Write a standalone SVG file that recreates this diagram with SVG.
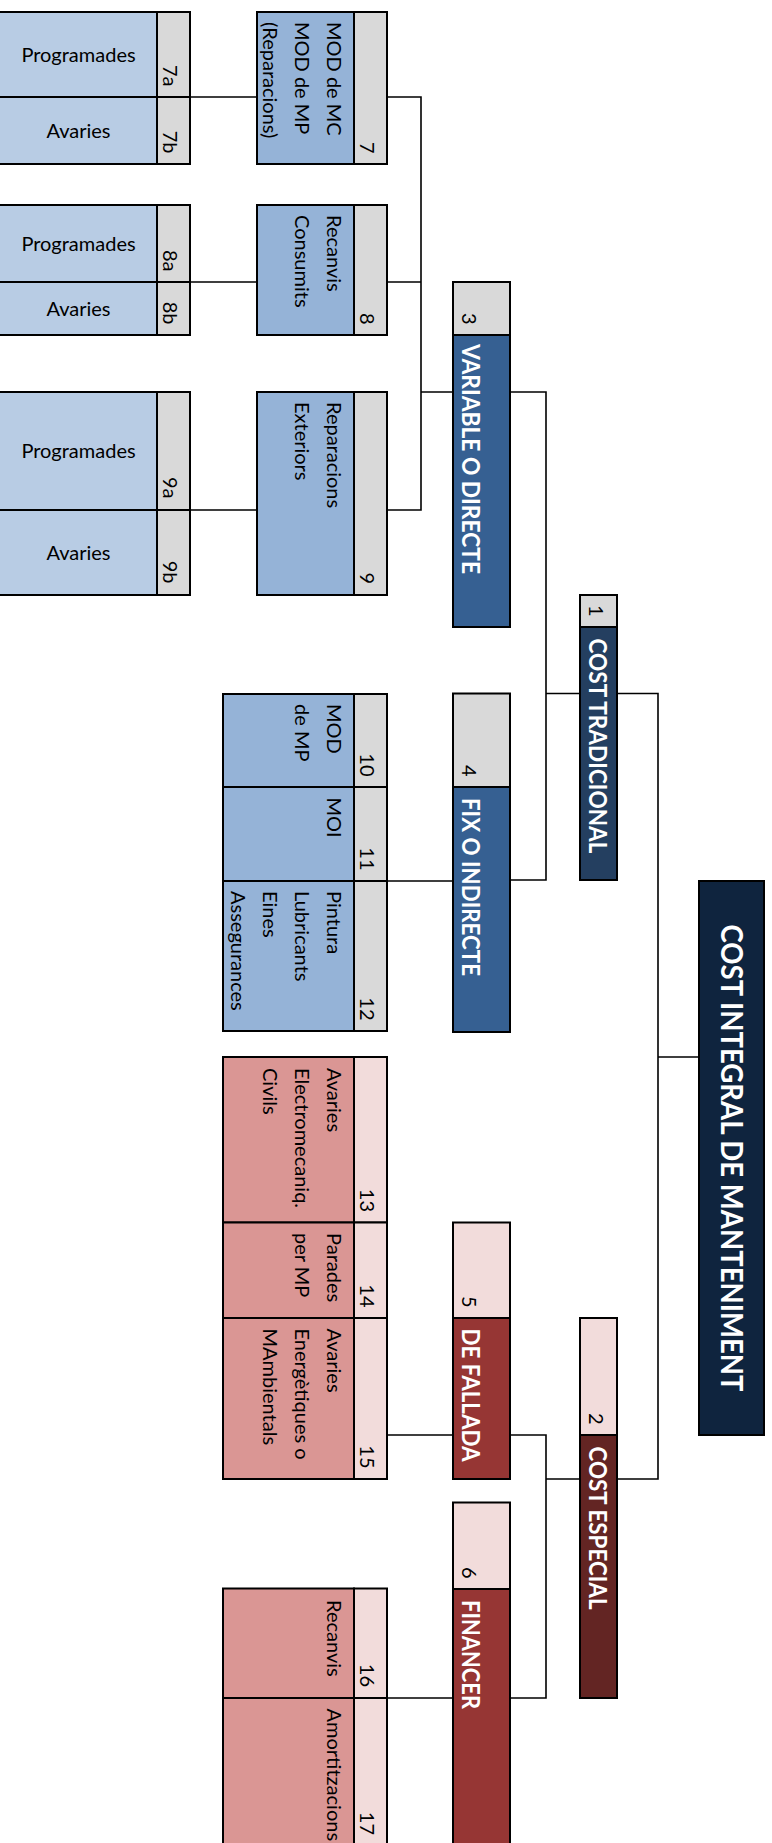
<svg xmlns="http://www.w3.org/2000/svg" width="772" height="1843" viewBox="0 0 772 1843">
  <style>
    .b { stroke: #000; stroke-width: 2; }
    .leaf { fill: #B8CCE4; }
    .mid { fill: #95B3D7; }
    .grey { fill: #D9D9D9; }
    .rose { fill: #DA9694; }
    .pink { fill: #F2DCDB; }
    .blue { fill: #366092; }
    .navy { fill: #243F60; }
    .ink { fill: #0F243E; }
    .red { fill: #963634; }
    .wine { fill: #632523; }
    .conn { stroke: #000; stroke-width: 1.6; fill: none; }
    text { font-family: Lato, "Liberation Sans", sans-serif; font-size: 20px; fill: #000; }
    .c { text-anchor: middle; }
    .e { text-anchor: end; }
    .w { font-weight: bold; font-size: 24px; fill: #fff; }
    .title { font-weight: bold; font-size: 30px; fill: #fff; text-anchor: middle; }
  </style>

  <!-- connectors (drawn first so box borders sit on top) -->
  <g id="connectors" class="conn">
    <path d="M190 97 H257 M190 282 H257 M190 510 H257"/>
    <path d="M387 97 H421 V510 H387 M387 282 H421 M421 392 H453"/>
    <path d="M510 392 H546 V880 H510 M546 693.5 H580 M387 881 H453"/>
    <path d="M617 693.5 H658 V1479 H617 M658 1057 H699"/>
    <path d="M387 1435 H453 M510 1435 H546 V1698 H510 M546 1479 H580 M387 1698 H453"/>
  </g>

  <!-- leaf rows: 7a .. 9b -->
  <g id="n7a">
    <rect class="b leaf" x="-4" y="12" width="161" height="85"/>
    <rect class="b grey" x="157" y="12" width="33" height="85"/>
    <text class="c" x="78.5" y="61.5">Programades</text>
    <text class="e" transform="translate(163,86.5) rotate(90)">7a</text>
  </g>
  <g id="n7b">
    <rect class="b leaf" x="-4" y="97" width="161" height="67"/>
    <rect class="b grey" x="157" y="97" width="33" height="67"/>
    <text class="c" x="78.5" y="137.5">Avaries</text>
    <text class="e" transform="translate(163,153.5) rotate(90)">7b</text>
  </g>
  <g id="n8a">
    <rect class="b leaf" x="-4" y="205" width="161" height="77"/>
    <rect class="b grey" x="157" y="205" width="33" height="77"/>
    <text class="c" x="78.5" y="250.5">Programades</text>
    <text class="e" transform="translate(163,271.5) rotate(90)">8a</text>
  </g>
  <g id="n8b">
    <rect class="b leaf" x="-4" y="282" width="161" height="53"/>
    <rect class="b grey" x="157" y="282" width="33" height="53"/>
    <text class="c" x="78.5" y="315.5">Avaries</text>
    <text class="e" transform="translate(163,324.5) rotate(90)">8b</text>
  </g>
  <g id="n9a">
    <rect class="b leaf" x="-4" y="392" width="161" height="118"/>
    <rect class="b grey" x="157" y="392" width="33" height="118"/>
    <text class="c" x="78.5" y="458">Programades</text>
    <text class="e" transform="translate(163,498.5) rotate(90)">9a</text>
  </g>
  <g id="n9b">
    <rect class="b leaf" x="-4" y="510" width="161" height="85"/>
    <rect class="b grey" x="157" y="510" width="33" height="85"/>
    <text class="c" x="78.5" y="559.5">Avaries</text>
    <text class="e" transform="translate(163,583.5) rotate(90)">9b</text>
  </g>

  <!-- second column: 7, 8, 9 -->
  <g id="n7">
    <rect class="b mid" x="257" y="12" width="97" height="152"/>
    <rect class="b grey" x="354" y="12" width="33" height="152"/>
    <text transform="translate(327,22) rotate(90)"><tspan x="0" y="0">MOD de MC</tspan><tspan x="0" dy="32">MOD de MP</tspan><tspan x="0" dy="32">(Reparacions)</tspan></text>
    <text class="e" transform="translate(360,153.5) rotate(90)">7</text>
  </g>
  <g id="n8">
    <rect class="b mid" x="257" y="205" width="97" height="130"/>
    <rect class="b grey" x="354" y="205" width="33" height="130"/>
    <text transform="translate(327,215) rotate(90)"><tspan x="0" y="0">Recanvis</tspan><tspan x="0" dy="32">Consumits</tspan></text>
    <text class="e" transform="translate(360,324.5) rotate(90)">8</text>
  </g>
  <g id="n9">
    <rect class="b mid" x="257" y="392" width="97" height="203"/>
    <rect class="b grey" x="354" y="392" width="33" height="203"/>
    <text transform="translate(327,402) rotate(90)"><tspan x="0" y="0">Reparacions</tspan><tspan x="0" dy="32">Exteriors</tspan></text>
    <text class="e" transform="translate(360,584) rotate(90)">9</text>
  </g>

  <!-- fixed cost items: 10, 11, 12 -->
  <g id="n10">
    <rect class="b mid" x="223" y="694" width="131" height="93"/>
    <rect class="b grey" x="354" y="694" width="33" height="93"/>
    <text transform="translate(327,704) rotate(90)"><tspan x="0" y="0">MOD</tspan><tspan x="0" dy="32">de MP</tspan></text>
    <text class="e" transform="translate(360,776.5) rotate(90)">10</text>
  </g>
  <g id="n11">
    <rect class="b mid" x="223" y="787" width="131" height="94"/>
    <rect class="b grey" x="354" y="787" width="33" height="94"/>
    <text transform="translate(327,797.5) rotate(90)">MOI</text>
    <text class="e" transform="translate(360,870.5) rotate(90)">11</text>
  </g>
  <g id="n12">
    <rect class="b mid" x="223" y="881" width="131" height="150"/>
    <rect class="b grey" x="354" y="881" width="33" height="150"/>
    <text transform="translate(327,891) rotate(90)"><tspan x="0" y="0">Pintura</tspan><tspan x="0" dy="32">Lubricants</tspan><tspan x="0" dy="32">Eines</tspan><tspan x="0" dy="32">Assegurances</tspan></text>
    <text class="e" transform="translate(360,1020.5) rotate(90)">12</text>
  </g>

  <!-- failure cost items: 13, 14, 15 -->
  <g id="n13">
    <rect class="b rose" x="223" y="1057" width="131" height="165.5"/>
    <rect class="b pink" x="354" y="1057" width="33" height="165.5"/>
    <text transform="translate(327,1068) rotate(90)"><tspan x="0" y="0">Avaries</tspan><tspan x="0" dy="32">Electromecaniq.</tspan><tspan x="0" dy="32">Civils</tspan></text>
    <text class="e" transform="translate(360,1212) rotate(90)">13</text>
  </g>
  <g id="n14">
    <rect class="b rose" x="223" y="1222.5" width="131" height="95.5"/>
    <rect class="b pink" x="354" y="1222.5" width="33" height="95.5"/>
    <text transform="translate(327,1233) rotate(90)"><tspan x="0" y="0">Parades</tspan><tspan x="0" dy="32">per MP</tspan></text>
    <text class="e" transform="translate(360,1307.5) rotate(90)">14</text>
  </g>
  <g id="n15">
    <rect class="b rose" x="223" y="1318" width="131" height="161"/>
    <rect class="b pink" x="354" y="1318" width="33" height="161"/>
    <text transform="translate(327,1328.5) rotate(90)"><tspan x="0" y="0">Avaries</tspan><tspan x="0" dy="32">Energètiques o</tspan><tspan x="0" dy="32">MAmbientals</tspan></text>
    <text class="e" transform="translate(360,1468.5) rotate(90)">15</text>
  </g>

  <!-- financial cost items: 16, 17 -->
  <g id="n16">
    <rect class="b rose" x="223" y="1588.5" width="131" height="109.5"/>
    <rect class="b pink" x="354" y="1588.5" width="33" height="109.5"/>
    <text transform="translate(327,1600) rotate(90)">Recanvis</text>
    <text class="e" transform="translate(360,1687) rotate(90)">16</text>
  </g>
  <g id="n17">
    <rect class="b rose" x="223" y="1698" width="131" height="150"/>
    <rect class="b pink" x="354" y="1698" width="33" height="150"/>
    <text transform="translate(327,1708.5) rotate(90)">Amortitzacions</text>
    <text class="e" transform="translate(360,1835) rotate(90)">17</text>
  </g>

  <!-- cost categories: 3, 4, 5, 6 -->
  <g id="n3">
    <rect class="b grey" x="453" y="282" width="57" height="53"/>
    <rect class="b blue" x="453" y="335" width="57" height="292"/>
    <text class="e" transform="translate(461.5,324.5) rotate(90)">3</text>
    <text class="w" transform="translate(461.5,344) rotate(90)" textLength="230" lengthAdjust="spacingAndGlyphs">VARIABLE O DIRECTE</text>
  </g>
  <g id="n4">
    <rect class="b grey" x="453" y="693.5" width="57" height="93.5"/>
    <rect class="b blue" x="453" y="787" width="57" height="245"/>
    <text class="e" transform="translate(461.5,776.5) rotate(90)">4</text>
    <text class="w" transform="translate(461.5,798) rotate(90)" textLength="178" lengthAdjust="spacingAndGlyphs">FIX O INDIRECTE</text>
  </g>
  <g id="n5">
    <rect class="b pink" x="453" y="1222.5" width="57" height="95.5"/>
    <rect class="b red" x="453" y="1318" width="57" height="161"/>
    <text class="e" transform="translate(461.5,1307.5) rotate(90)">5</text>
    <text class="w" transform="translate(461.5,1328.5) rotate(90)" textLength="133" lengthAdjust="spacingAndGlyphs">DE FALLADA</text>
  </g>
  <g id="n6">
    <rect class="b pink" x="453" y="1502.5" width="57" height="86.5"/>
    <rect class="b red" x="453" y="1589" width="57" height="260"/>
    <text class="e" transform="translate(461.5,1578.5) rotate(90)">6</text>
    <text class="w" transform="translate(461.5,1600) rotate(90)" textLength="109" lengthAdjust="spacingAndGlyphs">FINANCER</text>
  </g>

  <!-- cost groups: 1, 2 -->
  <g id="n1">
    <rect class="b grey" x="580" y="595" width="37" height="32"/>
    <rect class="b navy" x="580" y="627" width="37" height="253"/>
    <text class="e" transform="translate(588.5,616.5) rotate(90)">1</text>
    <text class="w" transform="translate(588.5,638.5) rotate(90)" textLength="215" lengthAdjust="spacingAndGlyphs">COST TRADICIONAL</text>
  </g>
  <g id="n2">
    <rect class="b pink" x="580" y="1318" width="37" height="117"/>
    <rect class="b wine" x="580" y="1435" width="37" height="263"/>
    <text class="e" transform="translate(588.5,1424.5) rotate(90)">2</text>
    <text class="w" transform="translate(588.5,1446.5) rotate(90)" textLength="163" lengthAdjust="spacingAndGlyphs">COST ESPECIAL</text>
  </g>

  <!-- root -->
  <g id="root">
    <rect class="b ink" x="699" y="881" width="65" height="554"/>
    <text class="title" transform="translate(720.5,1158) rotate(90)" textLength="467" lengthAdjust="spacingAndGlyphs">COST INTEGRAL DE MANTENIMENT</text>
  </g>
</svg>
